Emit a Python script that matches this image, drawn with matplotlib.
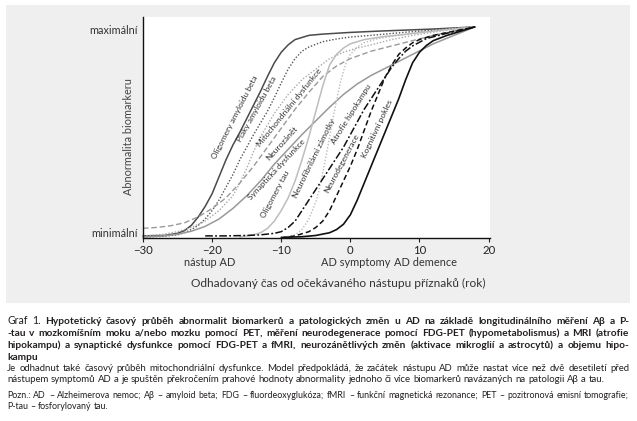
import matplotlib
matplotlib.use('Agg')
import matplotlib.pyplot as plt
from matplotlib.patches import Rectangle

plt.rcParams['font.family'] = ['Lato', 'DejaVu Sans']

W, H = 637, 421

# ---- curves (x = years, y = abnormality 0..1) ----
olig_abeta_x = [-30, -27, -25, -24, -23, -22, -21, -20, -19, -18, -17, -16, -15, -14, -13,
                -12, -11, -10, -9, -8, -6, -4, -2, 0, 4, 8, 12, 15, 18]
olig_abeta_y = [0.01, 0.012, 0.022, 0.035, 0.06, 0.10, 0.15, 0.21, 0.29, 0.37, 0.44, 0.50,
                0.565, 0.63, 0.695, 0.765, 0.83, 0.88, 0.915, 0.94, 0.96, 0.966, 0.97, 0.974,
                0.98, 0.985, 0.99, 0.995, 1.0]

plaques_x = [-30, -27, -25, -24, -23, -22, -21, -20, -19, -18, -17, -16, -15, -14, -13,
             -12, -11, -10, -9, -8, -7, -6, -4, -2, 0, 4, 8, 12, 15, 18]
plaques_y = [0.005, 0.008, 0.015, 0.025, 0.04, 0.06, 0.09, 0.13, 0.18, 0.24, 0.30, 0.37,
             0.43, 0.49, 0.545, 0.60, 0.665, 0.735, 0.80, 0.85, 0.885, 0.905, 0.93, 0.943,
             0.952, 0.963, 0.975, 0.985, 0.993, 1.0]

inflam_x = [-30, -27, -25, -23, -21, -19, -17, -16, -15, -14, -13, -11, -9, -7, -5, -3, -1,
            1, 3, 6, 9, 12, 15, 18]
inflam_y = [0.01, 0.018, 0.03, 0.05, 0.08, 0.13, 0.20, 0.26, 0.33, 0.41, 0.48, 0.59, 0.68,
            0.75, 0.80, 0.85, 0.88, 0.90, 0.915, 0.94, 0.96, 0.975, 0.99, 1.0]

mito_x = [-30, -28, -26, -24, -22, -20, -18, -16, -14, -12, -10, -8, -6, -4, -2, 0, 3, 6,
          9, 12, 15, 18]
mito_y = [0.046, 0.05, 0.058, 0.072, 0.10, 0.14, 0.19, 0.26, 0.34, 0.43, 0.52, 0.61, 0.69,
          0.765, 0.815, 0.85, 0.885, 0.91, 0.935, 0.96, 0.98, 1.0]

synaptic_x = [-30, -27, -25, -23, -21, -19, -17, -15, -13, -11, -9, -7, -5, -3, -1, 1, 3,
              6, 9, 12, 15, 18]
synaptic_y = [0.005, 0.01, 0.018, 0.032, 0.055, 0.09, 0.14, 0.20, 0.27, 0.35, 0.42, 0.49,
              0.555, 0.62, 0.68, 0.73, 0.77, 0.82, 0.87, 0.92, 0.96, 1.0]

olig_tau_x = [-16, -14, -13, -12, -11, -10, -9, -8, -7, -6, -5, -4, -3, -2, -1, 0, 2, 5, 8,
              12, 15, 18]
olig_tau_y = [0.005, 0.015, 0.025, 0.045, 0.08, 0.13, 0.19, 0.27, 0.37, 0.48, 0.60, 0.72,
              0.82, 0.87, 0.90, 0.92, 0.94, 0.955, 0.965, 0.98, 0.99, 1.0]

tangles_x = [-10, -8, -7, -6, -5, -4.5, -4, -3.5, -3, -2.5, -2, -1.5, -1, -0.5, 0, 1, 2, 4,
             7, 10, 14, 18]
tangles_y = [0.0, 0.015, 0.04, 0.09, 0.17, 0.23, 0.31, 0.39, 0.48, 0.57, 0.65, 0.73, 0.79,
             0.84, 0.87, 0.905, 0.925, 0.945, 0.96, 0.975, 0.99, 1.0]

atrophy_x = [-21, -18, -15, -13, -11, -10, -9, -8, -7, -6, -5, -4, -3, -2, -1, 0, 1, 2, 3,
             4, 5, 6, 7, 8, 9, 11, 14, 18]
atrophy_y = [0.01, 0.01, 0.012, 0.015, 0.022, 0.03, 0.05, 0.08, 0.13, 0.18, 0.23, 0.28,
             0.33, 0.38, 0.43, 0.49, 0.55, 0.61, 0.66, 0.71, 0.76, 0.81, 0.85, 0.885, 0.91,
             0.945, 0.97, 1.0]

neurodeg_x = [-10, -8, -6, -5, -4, -3, -2, -1, 0, 1, 2, 3, 4, 5, 6, 7, 8, 9, 10, 12, 15, 18]
neurodeg_y = [0.0, 0.01, 0.03, 0.05, 0.08, 0.13, 0.20, 0.27, 0.34, 0.42, 0.51, 0.60, 0.68,
              0.76, 0.82, 0.87, 0.90, 0.925, 0.94, 0.96, 0.98, 1.0]

cognitive_x = [-10, -7, -5, -3, -2, -1, 0, 1, 2, 3, 4, 5, 6, 7, 8, 9, 10, 11, 12, 14, 16, 18]
cognitive_y = [0.003, 0.006, 0.012, 0.025, 0.04, 0.065, 0.11, 0.18, 0.26, 0.34, 0.42, 0.50,
               0.58, 0.66, 0.75, 0.83, 0.88, 0.912, 0.935, 0.96, 0.98, 1.0]

curve_labels = ['Oligomery amyloidu beta', 'Plaky amyloidu beta', 'Mitochondriální dysfunkce',
                'Neurozánět', 'Synaptická dysfunkce', 'Oligomery tau',
                'Neurofibrilární zámotky', 'Atrofie hipokampu', 'Neurodegenerace',
                'Kognitivní pokles']

x_ticks = [-30, -20, -10, 0, 10, 20]
stage_labels = ['nástup AD', 'AD symptomy', 'AD demence']
y_tick_labels = ['minimální', 'maximální']

# ---- figure ----
fig = plt.figure(figsize=(W / 100, H / 100), dpi=100, facecolor='white')
fig.patches.append(Rectangle((6 / W, 1 - 303 / H), 624 / W, 298 / H,
                             transform=fig.transFigure, facecolor='#efefef',
                             edgecolor='none', zorder=-10))

ax = fig.add_axes([143 / W, 1 - 238 / H, (490 - 143) / W, (238 - 17) / H])
ax.set_zorder(2)
ax.set_facecolor('white')
ax.set_xlim(-30, 20.2)
ax.set_ylim(0, 1.047)

styles = [
    (olig_abeta_x, olig_abeta_y, dict(color='#4a4a4a', lw=1.1, ls='-')),
    (plaques_x, plaques_y, dict(color='#555555', lw=1.0, ls=(0, (1, 1.3)))),
    (inflam_x, inflam_y, dict(color='#aaaaaa', lw=1.0, ls=(0, (1, 1.3)))),
    (mito_x, mito_y, dict(color='#9a9a9a', lw=1.0, ls=(0, (4, 2)))),
    (synaptic_x, synaptic_y, dict(color='#999999', lw=1.1, ls='-')),
    (olig_tau_x, olig_tau_y, dict(color='#bdbdbd', lw=1.1, ls='-')),
    (tangles_x, tangles_y, dict(color='#bbbbbb', lw=1.0, ls=(0, (1, 1.3)))),
    (atrophy_x, atrophy_y, dict(color='#111111', lw=1.1, ls=(0, (5, 1.5, 1.2, 1.5)))),
    (neurodeg_x, neurodeg_y, dict(color='#111111', lw=1.1, ls=(0, (3.5, 2)))),
    (cognitive_x, cognitive_y, dict(color='#111111', lw=1.2, ls='-')),
]
for xs, ys, st in styles:
    ax.plot(xs, ys, solid_capstyle='round', clip_on=False, **st)

# curve labels: (x, y, rotation), set beside their curves
label_pos = [(-16.7, 0.57, 63), (-13.5, 0.61, 61), (-8.9, 0.62, 51), (-9.9, 0.45, 48),
             (-10.6, 0.325, 47), (-10.9, 0.205, 62), (-5.3, 0.38, 64), (0.2, 0.59, 58),
             (-1.2, 0.355, 62), (3.9, 0.515, 65)]
for txt, (lx, ly, rot) in zip(curve_labels, label_pos):
    ax.text(lx, ly, txt, rotation=rot, rotation_mode='anchor', ha='center', va='center',
            fontsize=6.0, color='#333333')

for s in ['top', 'right']:
    ax.spines[s].set_visible(False)
for s in ['left', 'bottom']:
    ax.spines[s].set_linewidth(1.0)
    ax.spines[s].set_color('#111111')

ax.set_xticks(x_ticks)
ax.set_xticklabels([f'{t}'.replace('-', '\u2212') for t in x_ticks])
ax.tick_params(axis='x', length=3, width=0.8, pad=2, labelsize=8.2, colors='#222222')
ax.set_yticks([0.024, 0.99])
ax.set_yticklabels(y_tick_labels)
ax.tick_params(axis='y', length=0, pad=4, labelsize=7.8, labelcolor='#333333')

for txt, px in zip(stage_labels, [210, 355.5, 425]):
    fig.text(px / W, 1 - 263 / H, txt, ha='center', va='center', fontsize=7.9, color='#333333')
fig.text(338 / W, 1 - 283 / H, 'Odhadovaný čas od očekávaného nástupu příznaků (rok)',
         ha='center', va='center', fontsize=8.6, color='#333333')
fig.text(128 / W, 1 - 137 / H, 'Abnormalita biomarkeru', rotation=90, ha='center',
         va='center', fontsize=7.8, color='#444444')

# ---- caption (justified lines) ----
renderer = fig.canvas.get_renderer()
X0, X1 = 7, 629


def fit_size(text, weight, base=7.0):
    t = fig.text(0, 0, text, fontsize=base, fontweight=weight)
    w = t.get_window_extent(renderer).width
    t.remove()
    return base * (X1 - X0) / w


def caption_line(py, parts, justify=True):
    # py is the baseline in pixels from the top
    words = []
    for text, weight, size in parts:
        for w in text.split(' '):
            if w:
                words.append((w, weight, size))
    arts = []
    widths = []
    for w, weight, size in words:
        t = fig.text(0, 1 - py / H, w, fontsize=size, fontweight=weight,
                     color='#231f20', va='baseline', ha='left')
        arts.append(t)
        widths.append(t.get_window_extent(renderer).width)
    if justify and len(words) > 1:
        gap = (X1 - X0 - sum(widths)) / (len(words) - 1)
    else:
        gap = words[0][2] * 100 / 72 * 0.25
    x = X0
    for t, wd in zip(arts, widths):
        t.set_x(x / W)
        x += wd + gap


B = 'bold'
R = 'normal'
l1 = 'Hypotetický časový průběh abnormalit biomarkerů a patologických změn u AD na základě longitudinálního měření Aβ a P-'
l2 = '-tau v mozkomíšním moku a/nebo mozku pomocí PET, měření neurodegenerace pomocí FDG-PET (hypometabolismus) a MRI (atrofie'
l3 = 'hipokampu) a synaptické dysfunkce pomocí FDG-PET a fMRI, neurozánětlivých změn (aktivace mikroglií a astrocytů) a objemu hipo-'
l5 = 'Je odhadnut také časový průběh mitochondriální dysfunkce. Model předpokládá, že začátek nástupu AD může nastat více než dvě desetiletí před'
l6 = 'nástupem symptomů AD a je spuštěn překročením prahové hodnoty abnormality jednoho či více biomarkerů navázaných na patologii Aβ a tau.'
l7 = 'Pozn.: AD – Alzheimerova nemoc; Aβ – amyloid beta; FDG – fluordeoxyglukóza; fMRI – funkční magnetická rezonance; PET – pozitronová emisní tomografie;'

bs = fit_size(l2, B) * 0.97
rs = fit_size(l5, R) * 0.98
ns = fit_size(l7, R) * 0.98

caption_line(324, [('Graf 1.', R, 7.6), (l1, B, bs)])
caption_line(336, [(l2, B, bs)])
caption_line(348, [(l3, B, bs)])
caption_line(359.5, [('kampu', B, bs)], justify=False)
caption_line(371, [(l5, R, rs)])
caption_line(382, [(l6, R, rs)], justify=False)
caption_line(398, [(l7, R, ns)])
caption_line(409, [('P-tau – fosforylovaný tau.', R, ns)], justify=False)

fig.savefig('out.png', dpi=100, facecolor='white')
